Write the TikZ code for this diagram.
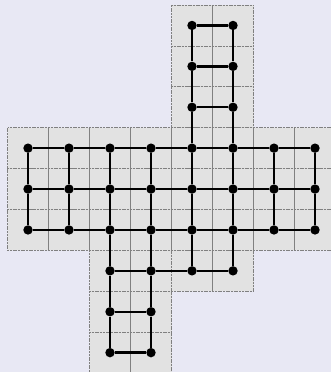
\documentclass[tikz,border=0pt]{standalone}
\definecolor{bg}{HTML}{E8E8F4}
\definecolor{cellfill}{HTML}{E2E2E2}
\definecolor{gridc}{HTML}{808080}
\begin{document}
\begin{tikzpicture}[x=1pt,y=-1pt,
  cellbox/.style={fill=cellfill, draw=gridc, line width=0.7pt, dash pattern=on 2pt off 0.7pt},
  dot/.style={circle, fill=black, inner sep=0pt, minimum size=9.4pt},
  edge/.style={line width=2.4pt, black}]
\fill[bg] (0,0) rectangle (331,372);
\useasboundingbox (0,0) rectangle (331,372);
% cells
\foreach \c in {4,5} \foreach \r in {0,...,6}
  \draw[cellbox] ({7.5+41*\c},{5+40.9*\r}) rectangle +(41,40.9);
\foreach \c in {0,...,7} \foreach \r in {3,4,5}
  \draw[cellbox] ({7.5+41*\c},{5+40.9*\r}) rectangle +(41,40.9);
\foreach \c in {2,3} \foreach \r in {6,7,8}
  \draw[cellbox] ({7.5+41*\c},{5+40.9*\r}) rectangle +(41,40.9);
% nodes
\foreach \c in {4,5} \foreach \r in {0,1,2}
  \node[dot] (n-\c-\r) at ({28+41*\c},{25.45+40.9*\r}) {};
\foreach \c in {0,...,7} \foreach \r in {3,4,5}
  \node[dot] (n-\c-\r) at ({28+41*\c},{25.45+40.9*\r}) {};
\foreach \c in {2,...,5}
  \node[dot] (n-\c-6) at ({28+41*\c},{25.45+40.9*6}) {};
\foreach \c in {2,3} \foreach \r in {7,8}
  \node[dot] (n-\c-\r) at ({28+41*\c},{25.45+40.9*\r}) {};
% horizontal edges
\foreach \r in {0,1,2,7,8} {
  \ifnum\r<3 \draw[edge] (n-4-\r) -- (n-5-\r);
  \else \draw[edge] (n-2-\r) -- (n-3-\r); \fi
}
\foreach \r in {3,4,5} \foreach \a/\b in {0/1,1/2,2/3,3/4,4/5,5/6,6/7}
  \draw[edge] (n-\a-\r) -- (n-\b-\r);
\foreach \a/\b in {2/3,3/4,4/5}
  \draw[edge] (n-\a-6) -- (n-\b-6);
% vertical edges
\foreach \c in {0,1,6,7} \foreach \a/\b in {3/4,4/5}
  \draw[edge] (n-\c-\a) -- (n-\c-\b);
\foreach \c in {2,3} \foreach \a/\b in {3/4,4/5,5/6,6/7,7/8}
  \draw[edge] (n-\c-\a) -- (n-\c-\b);
\foreach \c in {4,5} \foreach \a/\b in {0/1,1/2,2/3,3/4,4/5,5/6}
  \draw[edge] (n-\c-\a) -- (n-\c-\b);
\end{tikzpicture}
\end{document}
